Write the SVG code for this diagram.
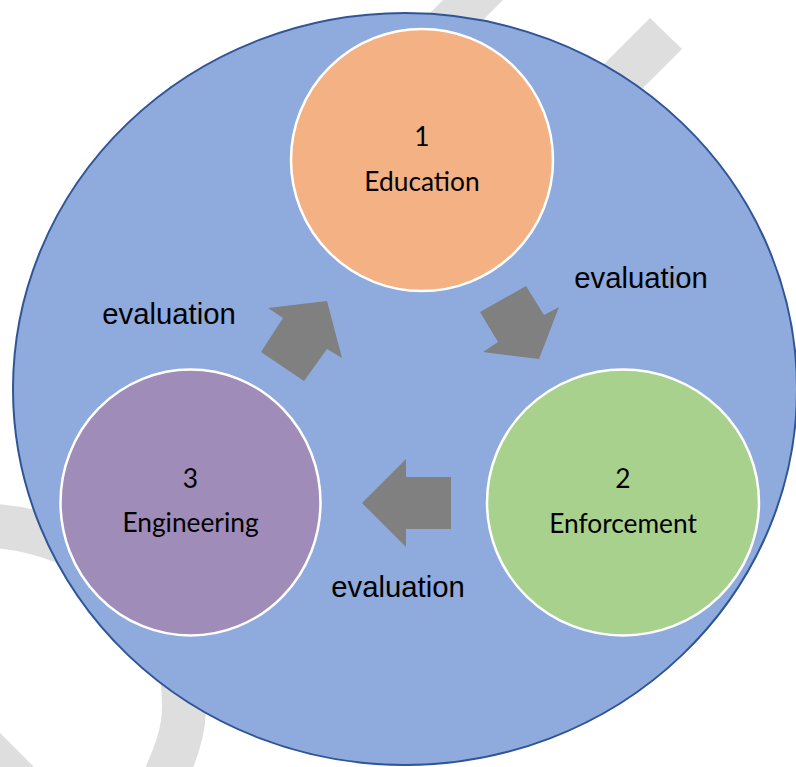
<svg xmlns="http://www.w3.org/2000/svg" width="796" height="767" viewBox="0 0 796 767">
  <style>
    .wm { fill: #DEDEDE; }
    .node-text { font-family: Lato, "Liberation Sans", sans-serif; font-size: 26.3px; fill: #000; text-anchor: middle; }
    .label { font-family: "Liberation Sans", Arial, sans-serif; font-size: 29.3px; fill: #000; text-anchor: middle; }
    .inner { stroke: #FFFFFF; stroke-width: 2.5; }
    .arrow { fill: #808080; }
  </style>
  <rect width="796" height="767" fill="#FFFFFF"/>
  <g id="watermark">
    <polygon class="wm" points="443,0 503,0 403,100 343,100"/>
    <polygon class="wm" points="650,18 682,49 582,149 550,118"/>
    <path d="M -20 525 C 100 528 195 615 183 722 C 180 745 172 760 160 790" fill="none" stroke="#DEDEDE" stroke-width="44"/>
    <polygon class="wm" points="0,733 34,767 0,767"/>
  </g>
  <g id="outer">
    <ellipse cx="405" cy="389" rx="392" ry="376" fill="#8FAADC" stroke="#2F5597" stroke-width="2"/>
  </g>
  <g id="connectors">
    <polygon class="arrow" points="268,308 327,301 342,358 327,349 304,381 261,352 283,318"/>
    <polygon class="arrow" points="480,312 526,286 544,315 559,307 539,359 483,352 498,342"/>
    <polygon class="arrow" points="451,477 406,477 406,459 362,503 406,547 406,529 451,529"/>
    <text class="label" x="169" y="324">evaluation</text>
    <text class="label" x="641" y="288">evaluation</text>
    <text class="label" x="398" y="597">evaluation</text>
  </g>
  <g id="education">
    <circle class="inner" cx="422" cy="160" r="131" fill="#F4B183"/>
    <text class="node-text" x="422" y="146">1</text>
    <text class="node-text" x="422" y="191">Education</text>
  </g>
  <g id="enforcement">
    <ellipse class="inner" cx="623" cy="502.5" rx="136" ry="133" fill="#A9D18E"/>
    <text class="node-text" x="623" y="488">2</text>
    <text class="node-text" x="623" y="533">Enforcement</text>
  </g>
  <g id="engineering">
    <ellipse class="inner" cx="190.5" cy="502.5" rx="130" ry="133" fill="#A08CB8"/>
    <text class="node-text" x="190.5" y="488">3</text>
    <text class="node-text" x="190.5" y="532">Engineering</text>
  </g>
</svg>
